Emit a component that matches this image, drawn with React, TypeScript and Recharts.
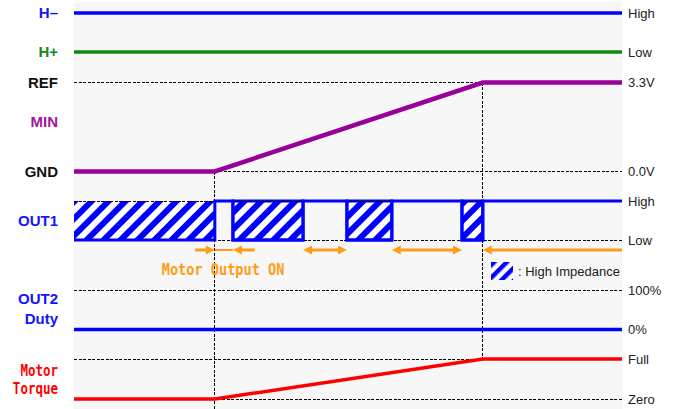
import React from "react";
import {
  ComposedChart,
  Line,
  XAxis,
  YAxis,
  CartesianGrid,
  ReferenceArea,
  ReferenceLine,
  ReferenceDot,
  Legend,
} from "recharts";

// time runs 0..100 (arbitrary units)
const T_ON = 25.7; // motor output starts
const T_FULL = 74.6; // REF reaches 3.3V
const T_END = 100;

const rampTimes = [0, T_ON, T_FULL, T_END];
const refVolts = [0, 0, 3.3, 3.3];
const torqueLevel = [0, 0, 1, 1]; // 0 = Zero, 1 = Full
const out2Duty = [0, 0, 0, 0]; // %
const hMinusLevel = [1, 1, 1, 1]; // High
const hPlusLevel = [0, 0, 0, 0]; // Low

const out1Edges = [0, T_ON, 29.0, 41.8, 49.8, 58.0, 70.8, T_FULL, T_END];
const out1States = ["Z", "H", "Z", "H", "Z", "H", "Z", "H"];

// "Motor Output ON" arrows: heads = 0 none, 1 at `to`, 2 both ends
const onArrows = [
  { from: 22.1, to: T_ON, heads: 1 },
  { from: T_ON, to: 29.0, heads: 0 },
  { from: 33.0, to: 29.0, heads: 1 },
  { from: 41.8, to: 49.8, heads: 2 },
  { from: 58.0, to: 70.8, heads: 2 },
  { from: T_END, to: T_FULL, heads: 1 },
];

const leftNames = [
  { lines: ["H–"], color: "#1414ff" },
  { lines: ["H+"], color: "#168a16" },
  { lines: ["REF"], color: "#111" },
  { lines: ["MIN"], color: "#a0169e" },
  { lines: ["GND"], color: "#111" },
  { lines: ["OUT1"], color: "#1414ff" },
  { lines: ["OUT2", "Duty"], color: "#1414ff" },
  { lines: ["Motor", "Torque"], color: "#ff0000", mono: true },
];
const rightNames = ["High", "Low", "3.3V", "0.0V", "High", "Low", "100%", "0%", "Full", "Zero"];

// vertical layout, in y-axis units (px below the plot top)
const Y_MAX = 407;
const lanes = {
  hMinus: { lo: 50, hi: 11, max: 1 },
  hPlus: { lo: 50, hi: 11, max: 1 },
  ref: { lo: 169.5, hi: 80.5, max: 3.3 },
  out1: { lo: 238, hi: 199, max: 1 },
  duty: { lo: 327.5, hi: 288.5, max: 100 },
  torque: { lo: 397, hi: 357, max: 1 },
};
type Lane = { lo: number; hi: number; max: number };
const at = (lane: Lane, v: number) => lane.lo - (v / lane.max) * (lane.lo - lane.hi);

const leftTicks = [11, 50, 80.5, 120, 170, 218.5, 306.5, 378];
const rightTicks = [
  at(lanes.hMinus, 1),
  at(lanes.hPlus, 0),
  at(lanes.ref, 3.3),
  at(lanes.ref, 0),
  at(lanes.out1, 1),
  at(lanes.out1, 0),
  at(lanes.duty, 100),
  at(lanes.duty, 0),
  at(lanes.torque, 1),
  at(lanes.torque, 0),
];
const ARROW_ROW = 248;
const TEXT_ROW = 267;

const ORANGE = "#ff9c14";
const BLUE = "#0000ff";

const LeftTick = (props: any) => {
  const { x, y, payload } = props;
  const idx = leftTicks.indexOf(payload.value);
  const item = leftNames[idx];
  if (!item) return null;
  const gap = item.mono ? 18 : 19.5;
  return (
    <g>
      {item.lines.map((s, i) => {
        const ly = y + (i - (item.lines.length - 1) / 2) * gap;
        return item.mono ? (
          <text
            key={i}
            transform={`translate(${x},${ly}) scale(1,1.2)`}
            textAnchor="end"
            dy="0.36em"
            fill={item.color}
            fontFamily="DejaVu Sans Mono"
            fontWeight="bold"
            fontSize={12.5}
          >
            {s}
          </text>
        ) : (
          <text
            key={i}
            x={x}
            y={ly}
            textAnchor="end"
            dy="0.36em"
            fill={item.color}
            fontFamily="Liberation Sans, Arial, sans-serif"
            fontWeight="bold"
            fontSize={15}
          >
            {s}
          </text>
        );
      })}
    </g>
  );
};

const RightTick = (props: any) => {
  const { x, y, payload } = props;
  const idx = rightTicks.indexOf(payload.value);
  return (
    <text
      x={x}
      y={y}
      dy="0.36em"
      textAnchor="start"
      fill="#222"
      fontFamily="Liberation Sans, Arial, sans-serif"
      fontSize={13}
    >
      {rightNames[idx]}
    </text>
  );
};

const dashedLine = {
  stroke: "#000",
  strokeWidth: 1,
  strokeDasharray: "3 1.5",
  shapeRendering: "crispEdges",
};

function arrowShape(p: any, heads: number) {
  const { x1, y1, x2 } = p;
  const y = y1;
  const d = Math.sign(x2 - x1);
  const L = 9;
  const W = 4.5;
  const tri = (tip: number, dir: number) =>
    `M${tip},${y} L${tip - dir * L},${y - W} L${tip - dir * L},${y + W} Z`;
  const s1 = heads === 2 ? x1 + d * L : x1;
  const s2 = heads >= 1 ? x2 - d * L : x2;
  return (
    <g>
      <line x1={s1} y1={y} x2={s2} y2={y} stroke={ORANGE} strokeWidth={heads === 0 ? 2 : 3} />
      {heads >= 1 && <path d={tri(x2, d)} fill={ORANGE} />}
      {heads === 2 && <path d={tri(x1, -d)} fill={ORANGE} />}
    </g>
  );
}

const HiZLegend = () => (
  <div style={{ display: "flex", alignItems: "center", fontFamily: "Liberation Sans, Arial, sans-serif", fontSize: 13, color: "#222" }}>
    <svg width={22} height={18} style={{ display: "block" }}>
      <defs>
        <pattern id="hizSmall" patternUnits="userSpaceOnUse" width={9} height={9} patternTransform="rotate(45)">
          <rect width={9} height={9} fill="#fff" />
          <rect width={4.5} height={9} fill={BLUE} />
        </pattern>
      </defs>
      <rect x={0} y={0} width={22} height={18} fill="url(#hizSmall)" />
    </svg>
    <span style={{ marginLeft: 5, whiteSpace: "nowrap" }}>: High Impedance</span>
  </div>
);

export default function App() {
  const refData = rampTimes.map((t, i) => ({ t, y: at(lanes.ref, refVolts[i]) }));
  const torqueData = rampTimes.map((t, i) => ({ t, y: at(lanes.torque, torqueLevel[i]) }));
  const dutyData = rampTimes.map((t, i) => ({ t, y: at(lanes.duty, out2Duty[i]) }));
  const hMinusData = rampTimes.map((t, i) => ({ t, y: at(lanes.hMinus, hMinusLevel[i]) }));
  const hPlusData = rampTimes.map((t, i) => ({ t, y: at(lanes.hPlus, hPlusLevel[i]) }));
  const out1Data = out1Edges.map((t, i) => {
    const s = out1States[Math.min(i, out1States.length - 1)];
    return { t, y: at(lanes.out1, s === "H" ? 1 : 0) };
  });
  const hiZ = out1States
    .map((s, i) => ({ s, x1: out1Edges[i], x2: out1Edges[i + 1], i }))
    .filter((d) => d.s === "Z");

  const guides = [
    [{ t: 0, y: at(lanes.ref, 3.3) }, { t: T_FULL, y: at(lanes.ref, 3.3) }],
    [{ t: T_ON, y: at(lanes.ref, 0) }, { t: T_END, y: at(lanes.ref, 0) }],
    [{ t: 0, y: at(lanes.out1, 1) }, { t: T_END, y: at(lanes.out1, 1) }],
    [{ t: 0, y: at(lanes.out1, 0) }, { t: T_END, y: at(lanes.out1, 0) }],
    [{ t: 0, y: at(lanes.duty, 100) }, { t: T_END, y: at(lanes.duty, 100) }],
    [{ t: 0, y: at(lanes.torque, 1) }, { t: T_FULL, y: at(lanes.torque, 1) }],
    [{ t: 0, y: at(lanes.torque, 0) }, { t: T_END, y: at(lanes.torque, 0) }],
    [{ t: T_ON, y: at(lanes.ref, 0) }, { t: T_ON, y: Y_MAX }],
    [{ t: T_FULL, y: at(lanes.ref, 3.3) }, { t: T_FULL, y: at(lanes.torque, 1) }],
  ];

  return (
    <div style={{ position: "absolute", left: 0, top: 0, background: "#fff" }}>
      <ComposedChart width={678} height={409} margin={{ top: 2, right: 0, bottom: 0, left: 0 }}>
        <defs>
          <pattern id="hiz" patternUnits="userSpaceOnUse" width={12} height={12} patternTransform="rotate(45)">
            <rect width={12} height={12} fill="#fff" />
            <rect width={6} height={12} fill={BLUE} />
          </pattern>
        </defs>
        <CartesianGrid horizontal={false} vertical={false} fill="#f7f7f7" fillOpacity={1} stroke="none" />
        <XAxis type="number" dataKey="t" domain={[0, T_END]} hide allowDataOverflow />
        <YAxis
          type="number"
          domain={[0, Y_MAX]}
          reversed
          allowDataOverflow
          width={74}
          axisLine={false}
          tickLine={false}
          tickSize={0}
          tickMargin={16}
          ticks={leftTicks}
          interval={0}
          tick={<LeftTick />}
        />
        <YAxis
          yAxisId="r"
          orientation="right"
          type="number"
          domain={[0, Y_MAX]}
          reversed
          allowDataOverflow
          width={56}
          axisLine={false}
          tickLine={false}
          tickSize={0}
          tickMargin={6}
          ticks={rightTicks}
          interval={0}
          tick={<RightTick />}
        />

        {guides.map((g, i) => (
          <Line key={`g${i}`} data={g} dataKey="y" {...dashedLine} dot={false} activeDot={false} isAnimationActive={false} />
        ))}

        {hiZ.map((d) => (
          <ReferenceArea
            key={`z${d.i}`}
            x1={d.x1}
            x2={d.x2}
            y1={at(lanes.out1, 1)}
            y2={at(lanes.out1, 0)}
            fill="url(#hiz)"
            fillOpacity={1}
            stroke={d.i === 0 ? "none" : BLUE}
            strokeWidth={3}
            ifOverflow="visible"
          />
        ))}

        <Line data={out1Data} dataKey="y" type="stepAfter" stroke={BLUE} strokeWidth={3} dot={false} activeDot={false} isAnimationActive={false} />
        <Line data={hMinusData} dataKey="y" stroke={BLUE} strokeWidth={3.5} dot={false} activeDot={false} isAnimationActive={false} />
        <Line data={hPlusData} dataKey="y" stroke="#118811" strokeWidth={3.5} dot={false} activeDot={false} isAnimationActive={false} />
        <Line data={refData} dataKey="y" stroke="#990099" strokeWidth={4.5} dot={false} activeDot={false} isAnimationActive={false} />
        <Line data={dutyData} dataKey="y" stroke={BLUE} strokeWidth={3.5} dot={false} activeDot={false} isAnimationActive={false} />
        <Line data={torqueData} dataKey="y" stroke="#ff0000" strokeWidth={3.5} dot={false} activeDot={false} isAnimationActive={false} />

        {onArrows.map((a, i) => (
          <ReferenceLine
            key={`a${i}`}
            segment={[
              { x: a.from, y: ARROW_ROW },
              { x: a.to, y: ARROW_ROW },
            ]}
            ifOverflow="visible"
            shape={(p: any) => arrowShape(p, a.heads)}
          />
        ))}

        <ReferenceDot
          x={27.2}
          y={TEXT_ROW}
          ifOverflow="visible"
          shape={(p: any) => (
            <text
              transform={`translate(${p.cx},${p.cy}) scale(1,1.15)`}
              textAnchor="middle"
              dy="0.36em"
              fill={ORANGE}
              fontFamily="DejaVu Sans Mono"
              fontWeight="bold"
              fontSize={13.6}
            >
              Motor Output ON
            </text>
          )}
        />

        <Legend
          layout="horizontal"
          verticalAlign="middle"
          align="center"
          wrapperStyle={{ left: 491, top: 262, width: 150, height: 18 }}
          content={() => <HiZLegend />}
        />
      </ComposedChart>
    </div>
  );
}
